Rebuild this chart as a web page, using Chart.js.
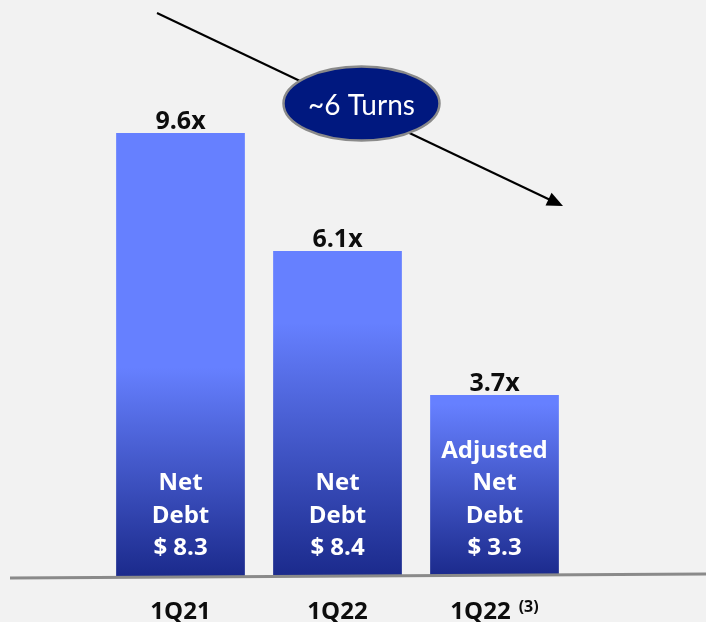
<!DOCTYPE html>
<html>
<head>
<meta charset="utf-8">
<script src="https://cdn.jsdelivr.net/npm/chart.js@4.4.0/dist/chart.umd.min.js"></script>
<style>
    html, body { margin: 0; padding: 0; background: #f2f2f2; }
    #wrap { position: relative; width: 706px; height: 622px; }
</style>
</head>
<body>
<div id="wrap"><canvas id="debtChart"></canvas></div>
<script>
// ========== DADOS ==========
const periods = ['1Q21', '1Q22', '1Q22'];
const periodNotes = ['', '', '(3)'];
const leverage = ['9.6x', '6.1x', '3.7x'];
const barHeights = [9.6, 7.04, 3.92];   // altura desenhada das barras (não proporcional ao múltiplo)
const debtLabels = [
    ['Net', 'Debt', '$ 8.3'],
    ['Net', 'Debt', '$ 8.4'],
    ['Adjusted', 'Net', 'Debt', '$ 3.3']
];
const trendLabel = '~6 Turns';

const COLORS = {
    barTop: '#6680ff',
    barBottom: '#1b2a8c',
    text: '#0d0d0d',
    bubble: '#00187f',
    bubbleBorder: '#8a8a8a',
    baseline: '#8a8a8a'
};
const FONT = 'Lato, "Open Sans", sans-serif';
const BOLD_FONT = '"Open Sans", Lato, sans-serif';
// fração da barra que fica com a cor clara antes do degradê
const GRADIENT_START = [0.53, 0.22, 0.05];

// ========== PLUGIN DE ANOTAÇÕES ==========
const annotations = {
    id: 'annotations',
    afterDatasetsDraw(chart) {
        const ctx = chart.ctx;
        const meta = chart.getDatasetMeta(0);
        const xScale = chart.scales.x;
        ctx.save();

        // linha de base inclinada
        ctx.strokeStyle = COLORS.baseline;
        ctx.lineWidth = 3;
        ctx.beginPath();
        ctx.moveTo(10, 578);
        ctx.lineTo(706, 574);
        ctx.stroke();

        ctx.textAlign = 'center';
        ctx.textBaseline = 'alphabetic';
        meta.data.forEach((bar, i) => {
            // múltiplo acima da barra
            ctx.fillStyle = COLORS.text;
            ctx.font = 'bold 25px ' + BOLD_FONT;
            ctx.fillText(leverage[i], bar.x, bar.y - 4);

            // texto dentro da barra
            ctx.fillStyle = '#ffffff';
            ctx.font = 'bold 24px ' + BOLD_FONT;
            const lines = debtLabels[i];
            lines.forEach((line, j) => {
                const y = bar.base - 21 - (lines.length - 1 - j) * 32.5;
                ctx.fillText(line, bar.x, y);
            });
        });

        // rótulos das categorias
        ctx.fillStyle = COLORS.text;
        periods.forEach((p, i) => {
            const cx = xScale.getPixelForValue(i);
            ctx.font = 'bold 24px ' + BOLD_FONT;
            const w1 = ctx.measureText(p).width;
            let w2 = 0;
            const note = periodNotes[i];
            if (note) {
                ctx.font = 'bold 16px ' + BOLD_FONT;
                w2 = ctx.measureText(note).width + 8;
            }
            const left = cx - (w1 + w2) / 2;
            ctx.textAlign = 'left';
            ctx.font = 'bold 24px ' + BOLD_FONT;
            ctx.fillText(p, left, 619);
            if (note) {
                ctx.font = 'bold 16px ' + BOLD_FONT;
                ctx.fillText(note, left + w1 + 8, 612);
            }
        });

        // seta de tendência
        const x0 = 157, y0 = 13, x1 = 563, y1 = 206;
        const ang = Math.atan2(y1 - y0, x1 - x0);
        ctx.strokeStyle = '#000000';
        ctx.lineWidth = 2;
        ctx.beginPath();
        ctx.moveTo(x0, y0);
        ctx.lineTo(x1 - 14 * Math.cos(ang), y1 - 14 * Math.sin(ang));
        ctx.stroke();
        ctx.fillStyle = '#000000';
        ctx.beginPath();
        ctx.moveTo(x1, y1);
        ctx.lineTo(x1 - 16 * Math.cos(ang) + 7 * Math.sin(ang), y1 - 16 * Math.sin(ang) - 7 * Math.cos(ang));
        ctx.lineTo(x1 - 16 * Math.cos(ang) - 7 * Math.sin(ang), y1 - 16 * Math.sin(ang) + 7 * Math.cos(ang));
        ctx.closePath();
        ctx.fill();

        // balão "~6 Turns"
        ctx.beginPath();
        ctx.ellipse(361.5, 103.5, 78, 37, 0, 0, Math.PI * 2);
        ctx.fillStyle = COLORS.bubble;
        ctx.fill();
        ctx.lineWidth = 2.5;
        ctx.strokeStyle = COLORS.bubbleBorder;
        ctx.stroke();
        ctx.fillStyle = '#ffffff';
        ctx.font = '28px ' + FONT;
        ctx.textAlign = 'center';
        ctx.fillText(trendLabel, 361.5, 115);

        ctx.restore();
    }
};

// ========== GRÁFICO ==========
function createDebtChart() {
    const canvas = document.getElementById('debtChart');
    if (!canvas) return;

    new Chart(canvas, {
        type: 'bar',
        data: {
            labels: periods,
            datasets: [{
                data: barHeights,
                backgroundColor: function (context) {
                    const chart = context.chart;
                    const yScale = chart.scales.y;
                    if (!chart.chartArea || !yScale) return COLORS.barTop;
                    const i = context.dataIndex;
                    const top = yScale.getPixelForValue(barHeights[i]);
                    const bottom = yScale.getPixelForValue(0);
                    const g = chart.ctx.createLinearGradient(0, top, 0, bottom);
                    g.addColorStop(0, COLORS.barTop);
                    g.addColorStop(GRADIENT_START[i], COLORS.barTop);
                    g.addColorStop(1, COLORS.barBottom);
                    return g;
                },
                borderWidth: 0,
                categoryPercentage: 1,
                barPercentage: 0.82
            }]
        },
        options: {
            responsive: true,
            maintainAspectRatio: false,
            animation: false,
            layout: {
                padding: { left: 102, right: 133, top: 0, bottom: 46 }
            },
            plugins: {
                legend: { display: false },
                tooltip: { enabled: false }
            },
            scales: {
                x: { display: false },
                y: { display: false, min: 0, max: 12.48 }
            }
        },
        plugins: [annotations]
    });
}

createDebtChart();
</script>
</body>
</html>
